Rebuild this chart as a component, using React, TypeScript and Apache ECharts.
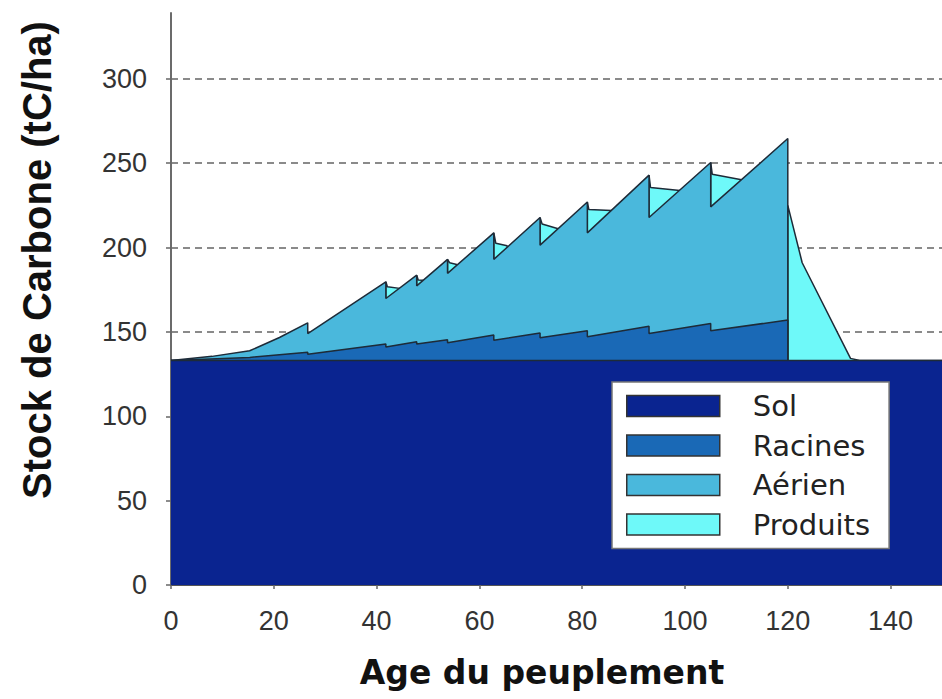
import React, { useEffect, useRef } from 'react';
import * as echarts from 'echarts';

// Cumulative stock values (tC/ha), as [age, value]
const solData: [number, number][] = [[0, 133], [150, 133]];

const racinesData: [number, number][] = [
  [0, 133], [15.3, 134.9], [26.6, 137.9], [26.6, 136.7], [41.8, 142.8], [41.8, 141],
  [47.8, 144.1], [47.8, 142.8], [53.8, 145.3], [53.8, 143.6], [62.8, 148.1], [62.8, 145],
  [71.8, 149.3], [71.8, 146.5], [81, 150.7], [81, 147.1], [93, 153.4], [93, 149],
  [105, 155], [105, 150.7], [120, 157], [120, 133],
];

const aerienData: [number, number][] = [
  [0, 133], [8, 135.5], [15.3, 138.8], [21.1, 146.7], [26.6, 155.4], [26.6, 149],
  [41.8, 179.7], [41.8, 169.8], [47.8, 183.6], [47.8, 177.3], [53.8, 193], [53.8, 184.7],
  [62.8, 208.7], [62.8, 193], [71.8, 217.8], [71.8, 201.4], [81, 227], [81, 208.7],
  [93, 242.9], [93, 217.8], [105, 250.4], [105, 224.1], [120, 264.6], [120, 133],
];

const produitsData: [number, number][] = [
  [0, 133], [41.8, 133], [41.8, 179.7], [42.1, 176.8], [44.5, 175.8], [44.7, 133],
  [47.8, 133], [47.8, 183.6], [48.1, 180.8], [49, 180.6], [49.2, 133],
  [53.8, 133], [53.8, 193], [54.2, 191], [55.6, 190], [55.8, 133],
  [62.8, 133], [62.8, 208.7], [63.2, 202.5], [65.4, 201], [65.6, 133],
  [71.8, 133], [71.8, 217.8], [72.2, 214], [75.5, 211], [75.7, 133],
  [81, 133], [81, 227], [81.3, 222.5], [85.7, 222], [85.9, 133],
  [93, 133], [93, 242.9], [93.3, 235.6], [99, 233.8], [99.2, 133],
  [105, 133], [105, 250.4], [105.3, 243.5], [111, 240.2], [111.2, 133],
  [120, 133], [120, 225], [122.8, 191], [132.2, 134.3], [134, 133], [150, 133],
];

const legendNames = ['Sol', 'Racines', 'Aérien', 'Produits'];
const xTitle = 'Age du peuplement';
const yTitle = 'Stock de Carbone (tC/ha)';

const colors: Record<string, string> = {
  Sol: '#0a2490',
  Racines: '#1a69b6',
  'Aérien': '#4ab8dc',
  Produits: '#6ef9f9',
};
const outline = '#1e2b38';

export default function App() {
  const ref = useRef<HTMLDivElement>(null);
  useEffect(() => {
    const chart = echarts.init(ref.current!, null, { renderer: 'svg' });
    const mk = (name: string, data: [number, number][], z: number) => ({
      name,
      type: 'line',
      data,
      z,
      symbol: 'none',
      showSymbol: false,
      smooth: false,
      lineStyle: { color: outline, width: 1.5 },
      itemStyle: { color: colors[name] },
      areaStyle: { color: colors[name], opacity: 1 },
      emphasis: { disabled: true },
    });
    chart.setOption({
      animation: false,
      backgroundColor: '#fff',
      grid: { left: 171, top: 13, width: 772, height: 572, containLabel: false },
      xAxis: {
        type: 'value',
        min: 0,
        max: 150,
        interval: 20,
        z: 10,
        axisLine: { show: true, lineStyle: { color: '#555', width: 1 } },
        axisTick: { show: true, length: 4, lineStyle: { color: '#666', width: 1.5 } },
        axisLabel: {
          fontSize: 27,
          fontFamily: '"Liberation Sans", Arial, sans-serif',
          color: '#333',
          margin: 22,
          showMaxLabel: false,
        },
        splitLine: { show: false },
      },
      yAxis: {
        type: 'value',
        min: 0,
        max: 339,
        interval: 50,
        axisLine: { show: true, lineStyle: { color: '#6b6b6b', width: 2 } },
        axisTick: { show: true, length: 5, lineStyle: { color: '#666', width: 1.5 } },
        axisLabel: {
          fontSize: 27,
          fontFamily: '"Liberation Sans", Arial, sans-serif',
          color: '#333',
          margin: 24,
          padding: [10, 0, 0, 0],
          showMaxLabel: false,
        },
        splitLine: {
          show: true,
          showMaxLine: false,
          lineStyle: { color: '#8a8a8a', width: 2, type: [7, 5] },
        },
      },
      legend: {
        data: legendNames.map((n) => ({
          name: n,
          itemStyle: { color: colors[n], borderColor: '#333', borderWidth: 1.5 },
        })),
        orient: 'vertical',
        left: 612,
        top: 382,
        z: 20,
        icon: 'rect',
        itemWidth: 93,
        itemHeight: 21,
        itemGap: 9.5,
        padding: [9, 19, 9, 14],
        backgroundColor: '#fff',
        borderColor: '#777',
        borderWidth: 1.5,
        selectedMode: false,
        textStyle: {
          fontFamily: '"DejaVu Sans", sans-serif',
          fontSize: 29,
          color: '#222',
          padding: [0, 0, 0, 28],
          lineHeight: 30,
        },
      },
      graphic: [
        {
          type: 'text',
          x: 37,
          y: 260,
          rotation: Math.PI / 2,
          style: {
            text: yTitle,
            fontSize: 40,
            fontWeight: 'bold',
            fontFamily: '"Liberation Sans", Arial, sans-serif',
            fill: '#111',
            align: 'center',
            verticalAlign: 'middle',
          },
        },
        {
          type: 'text',
          x: 542,
          y: 672,
          style: {
            text: xTitle,
            fontSize: 33,
            fontWeight: 'bold',
            fontFamily: '"DejaVu Sans", sans-serif',
            fill: '#111',
            align: 'center',
            verticalAlign: 'middle',
          },
        },
      ],
      series: [
        mk('Produits', produitsData, 2),
        mk('Aérien', aerienData, 3),
        mk('Racines', racinesData, 4),
        mk('Sol', solData, 5),
      ],
    });
    return () => chart.dispose();
  }, []);
  return (
    <div
      ref={ref}
      style={{ position: 'absolute', left: 0, top: 0, width: 942, height: 699, background: '#fff' }}
    />
  );
}
